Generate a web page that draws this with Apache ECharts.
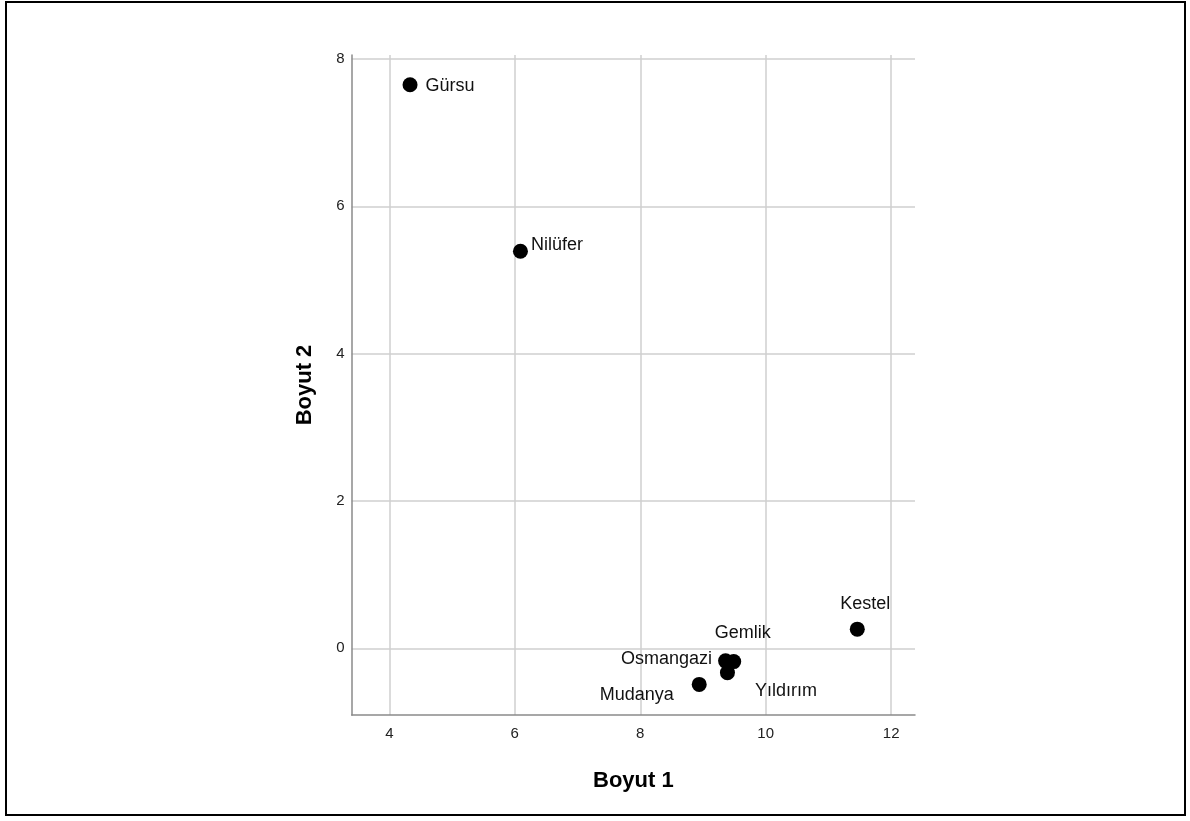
<!DOCTYPE html>
<html>
<head>
<meta charset="utf-8">
<script src="https://cdn.jsdelivr.net/npm/echarts@6/dist/echarts.min.js"></script>
<style>
html,body{margin:0;padding:0;background:#fff;}
#frame{position:absolute;left:5px;top:1px;width:1181px;height:815px;border:2px solid #000;box-sizing:border-box;}
#chart{position:absolute;left:0;top:0;width:1190px;height:821px;}
</style>
</head>
<body>
<div id="frame"></div>
<div id="chart"></div>
<script>
const names = ['Gürsu', 'Nilüfer', 'Kestel', 'Gemlik', 'Osmangazi', 'Yıldırım', 'Mudanya'];
const dim1 = [4.33, 6.09, 11.46, 9.49, 9.36, 9.39, 8.94];
const dim2 = [7.65, 5.39, 0.26, -0.18, -0.17, -0.33, -0.49];
const xTicks = [4, 6, 8, 10, 12];
const yTicks = [0, 2, 4, 6, 8];

const FONT = '"Liberation Sans", Arial, sans-serif';

const labelCfg = {
  'Gürsu': {position: 'right', distance: 8, offset: [0, 1]},
  'Nilüfer': {position: 'right', distance: 3, offset: [0, -6]},
  'Kestel': {position: 'top', distance: 9, offset: [8, 0]},
  'Gemlik': {position: 'top', distance: 12, offset: [9, 0]},
  'Osmangazi': {position: 'left', distance: 6, offset: [0, -2]},
  'Yıldırım': {position: 'right', distance: 20, offset: [0, 18]},
  'Mudanya': {position: 'left', distance: 18, offset: [0, 11]}
};

const data = names.map((n, i) => ({
  name: n,
  value: [dim1[i], dim2[i]],
  label: Object.assign({show: true, formatter: '{b}'}, labelCfg[n])
}));

const chart = echarts.init(document.getElementById('chart'));
chart.setOption({
  animation: false,
  grid: {left: 351.7, right: 275, top: 55, bottom: 106, containLabel: false},
  xAxis: {
    type: 'value', min: 3.4, max: 12.38, splitNumber: 5, minInterval: 2, maxInterval: 2,
    name: 'Boyut 1', nameLocation: 'middle', nameGap: 55,
    nameTextStyle: {fontFamily: FONT, fontWeight: 'bold', fontSize: 22, color: '#000'},
    axisLine: {show: true, onZero: false, lineStyle: {color: '#8a8a8a', width: 1.5}},
    axisTick: {show: false},
    axisLabel: {show: true, showMinLabel: false, showMaxLabel: false, margin: 11, fontFamily: FONT, fontSize: 15, color: '#222',
      formatter: v => xTicks.includes(Math.round(v * 1000) / 1000) ? String(Math.round(v)) : ''},
    splitLine: {show: true, showMinLine: false, showMaxLine: false, lineStyle: {color: '#cfcfcf', width: 1.5}}
  },
  yAxis: {
    type: 'value', min: -0.905, max: 8.054, splitNumber: 5, minInterval: 2, maxInterval: 2,
    name: 'Boyut 2', nameLocation: 'middle', nameGap: 36, nameRotate: 90,
    nameTextStyle: {fontFamily: FONT, fontWeight: 'bold', fontSize: 22, color: '#000'},
    axisLine: {show: true, onZero: false, lineStyle: {color: '#8a8a8a', width: 1.5}},
    axisTick: {show: false},
    axisLabel: {show: true, showMinLabel: false, showMaxLabel: false, margin: 7, fontFamily: FONT, fontSize: 15, color: '#222',
      formatter: v => yTicks.includes(Math.round(v * 1000) / 1000) ? String(Math.round(v)) : ''},
    splitLine: {show: true, showMinLine: false, showMaxLine: false, lineStyle: {color: '#cfcfcf', width: 1.5}}
  },
  series: [{
    type: 'scatter',
    symbol: 'circle',
    symbolSize: 15,
    itemStyle: {color: '#000', opacity: 1},
    label: {fontFamily: FONT, fontSize: 18, color: '#111'},
    data: data
  }]
});
</script>
</body>
</html>
